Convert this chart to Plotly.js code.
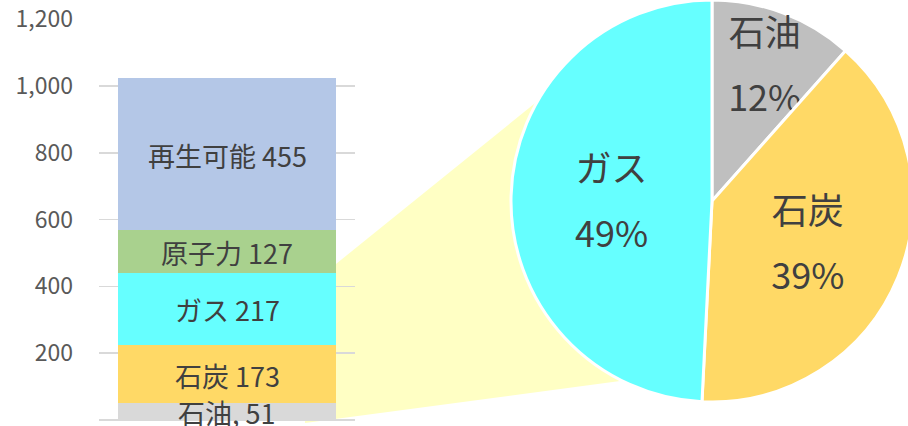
<!DOCTYPE html>
<html><head><meta charset="utf-8">
<script src="https://cdn.plot.ly/plotly-3.0.1.min.js"></script>
<style>html,body{margin:0;padding:0;overflow:hidden;background:#fff;width:908px;height:426px}#chart{width:920px;height:426px}</style>
</head><body><div id="chart"></div>
<script>
// ---- data ----
const categories = ['石油', '石炭', 'ガス', '原子力', '再生可能'];
const values = [51, 173, 217, 127, 455];
const barLabels = ['石油, 51', '石炭 173', 'ガス 217', '原子力 127', '再生可能 455'];
const pieLabels = ['石油', '石炭', 'ガス'];
const pieValues = [51, 173, 217];
const yTickVals = [0, 200, 400, 600, 800, 1000, 1200];
const yTickText = ['0', '200', '400', '600', '800', '1,000', '1,200'];
const barCategory = ['合計'];

// ---- styles ----
const barColors = ['#d9d9d9', '#ffd966', '#66ffff', '#a9d18e', '#b4c7e7'];
const pieColors = ['#bfbfbf', '#ffd966', '#66ffff'];
const W = 920, H = 426;
const FONT = 'Noto Sans CJK JP, Noto Sans, sans-serif';
const px = (x) => x / W, py = (y) => 1 - y / H;

const traces = categories.map((c, i) => ({
  type: 'bar',
  name: c,
  x: barCategory,
  y: [values[i]],
  marker: {color: barColors[i], line: {width: 0}},
  xaxis: 'x', yaxis: 'y',
  hoverinfo: 'skip',
  showlegend: false
}));

const big = (s) => '<span style="font-size:36px">' + s + '</span>';
traces.push({
  type: 'pie',
  labels: pieLabels,
  values: pieValues,
  sort: false,
  direction: 'clockwise',
  rotation: 0,
  marker: {colors: pieColors, line: {color: '#ffffff', width: 3}},
  texttemplate: big('%{label}') + '<br> <br>' + big('%{percent:.0%}'),
  textposition: 'inside',
  insidetextorientation: 'horizontal',
  textfont: {family: FONT, size: 25, color: '#404040'},
  domain: {x: [511 / W, 913 / W], y: [24 / H, 1]},
  hoverinfo: 'skip',
  showlegend: false
});

// segment labels at the middle of each stacked segment (derived from the values)
let acc = 0;
const annotations = values.map((v, i) => {
  const mid = acc + v / 2; acc += v;
  return {
    xref: 'x', yref: 'y', x: barCategory[0], y: mid,
    text: barLabels[i], showarrow: false,
    xanchor: 'center', yanchor: 'middle', yshift: -1, borderpad: 0,
    font: {family: FONT, size: 27, color: '#404040'}
  };
});

// connector polygon (decorative), pixel vertices converted to paper coords
const conn = [[305, 289], [560, 83], [650, 377], [305, 423]];
const path = 'M' + conn.map(p => px(p[0]).toFixed(5) + ',' + py(p[1]).toFixed(5)).join(' L') + ' Z';

const layout = {
  width: W, height: H,
  margin: {l: 0, r: 0, t: 0, b: 0, pad: 0},
  paper_bgcolor: '#ffffff',
  plot_bgcolor: 'rgba(0,0,0,0)',
  barmode: 'stack',
  bargap: 0.15,
  showlegend: false,
  uniformtext: {mode: 'show', minsize: 25},
  font: {family: FONT, color: '#595959'},
  xaxis: {
    domain: [99 / W, 355 / W],
    showticklabels: false, showgrid: false, zeroline: false, showline: false, ticks: ''
  },
  yaxis: {
    domain: [6 / H, 1 - 19.3 / H],
    range: [0, 1200],
    tickmode: 'array', tickvals: yTickVals, ticktext: yTickText,
    showgrid: true, gridcolor: '#d9d9d9', gridwidth: 1.5,
    zeroline: true, zerolinecolor: '#d9d9d9', zerolinewidth: 1.5,
    showline: false, ticks: '',
    ticklabelstandoff: 25,
    tickfont: {family: FONT, size: 23, color: '#595959'}
  },
  annotations: annotations,
  shapes: [{
    type: 'path', xref: 'paper', yref: 'paper', path: path,
    fillcolor: '#ffffc4', line: {width: 0}, layer: 'below'
  }]
};

Plotly.newPlot('chart', traces, layout, {displayModeBar: false, staticPlot: true});
</script>
</body></html>
